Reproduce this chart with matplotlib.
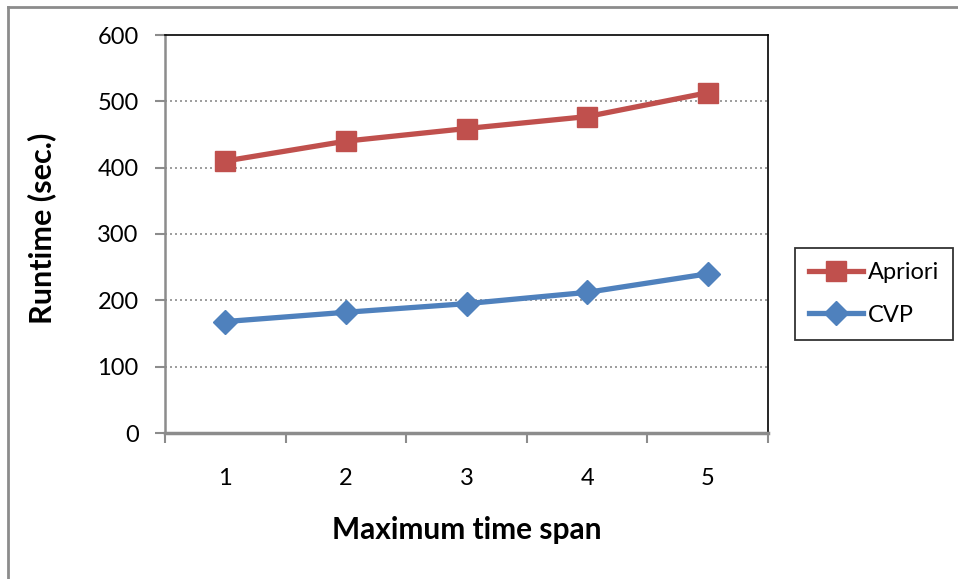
import matplotlib.pyplot as plt
import numpy as np

# data
spans = [1, 2, 3, 4, 5]
apriori = [410, 440, 459, 477, 513]
cvp = [168, 182, 195, 212, 240]
yticks = [0, 100, 200, 300, 400, 500, 600]

red = '#C0504D'
blue = '#4F81BD'
plt.rcParams['font.family'] = ['Lato', 'DejaVu Sans']

fig = plt.figure(figsize=(9.58, 5.79), dpi=100)
ax = fig.add_axes([165/958, 1-433/579, (768-165)/958, (433-35)/579])

ax.plot(spans, apriori, color=red, lw=3.8, marker='s', ms=14, label='Apriori', zorder=3)
ax.plot(spans, cvp, color=blue, lw=3.8, marker='D', ms=12, label='CVP', zorder=3)

ax.set_xlim(0.5, 5.5)
ax.set_ylim(0, 600)
ax.set_yticks(yticks)
ax.set_xticks(spans)
ax.set_xticks(np.arange(0.5, 6, 1), minor=True)
ax.tick_params(axis='x', which='major', length=0, labelsize=17, pad=25)
ax.tick_params(axis='x', which='minor', length=7, width=1.5, color='#8c8c8c', direction='out')
ax.tick_params(axis='y', length=7, width=1.5, color='#8c8c8c', labelsize=17, pad=12)
for y in yticks[1:-1]:
    ax.axhline(y, color='#8c8c8c', lw=1.2, ls=(0, (1.2, 1.8)), zorder=1)

ax.spines['left'].set_color('#8c8c8c')
ax.spines['left'].set_linewidth(1.8)
ax.spines['bottom'].set_color('#8c8c8c')
ax.spines['bottom'].set_linewidth(2.5)
ax.spines['top'].set_color('black')
ax.spines['top'].set_linewidth(1.2)
ax.spines['right'].set_color('black')
ax.spines['right'].set_linewidth(1.2)

fig.text(42/958, 1-228/579, 'Runtime (sec.)', rotation=90, ha='center', va='center',
         fontsize=22, fontweight='bold')
fig.text(467/958, 1-530/579, 'Maximum time span', ha='center', va='center',
         fontsize=21.5, fontweight='bold')

leg = fig.legend(loc='center', bbox_to_anchor=(874/958, 1-294/579), fontsize=17,
                 frameon=True, fancybox=False, edgecolor='black', handlelength=2.3,
                 handletextpad=0.2, borderpad=0.6, labelspacing=0.9, borderaxespad=0)
leg.get_frame().set_linewidth(1.3)

# outer chart frame
fig.add_artist(plt.Line2D([8/958, 8/958], [0, 1-7/579], color='#8c8c8c', lw=2))
fig.add_artist(plt.Line2D([8/958, 1], [1-7/579, 1-7/579], color='#8c8c8c', lw=2))

fig.savefig('out.png', dpi=100)
